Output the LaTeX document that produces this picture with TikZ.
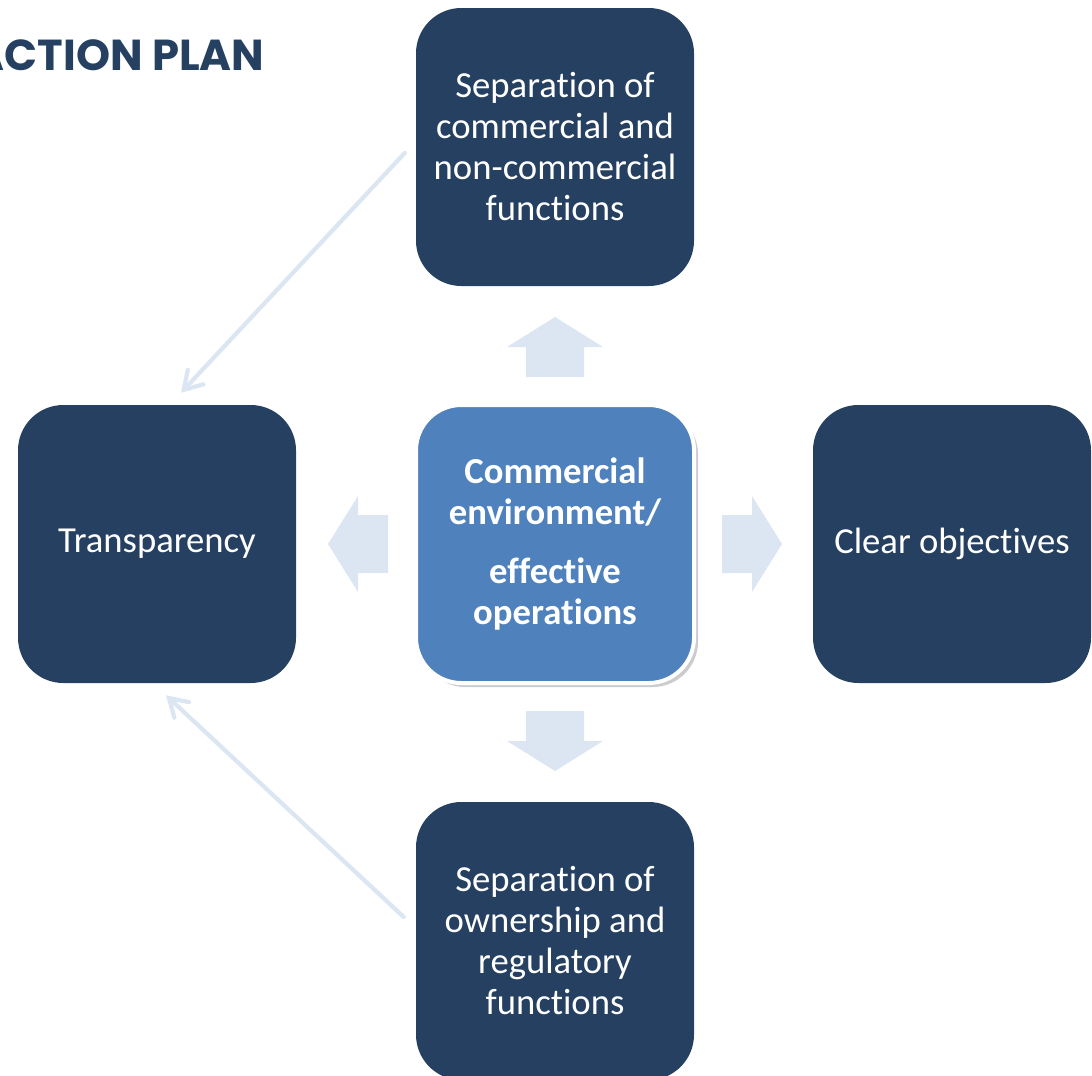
\documentclass[tikz,border=0pt]{standalone}
\usepackage{fontspec}
\setmainfont{Carlito}[Ligatures=NoCommon]
\newfontfamily\titlefont{Poppins}
\usetikzlibrary{arrows.meta,shadows}
\definecolor{navy}{HTML}{264061}
\definecolor{paleblue}{HTML}{DCE6F2}
\definecolor{midblue}{HTML}{4F81BD}
\begin{document}
\begin{tikzpicture}[x=0.75pt,y=-0.75pt,
    box/.style={rounded corners=34pt, minimum width=208.5pt, minimum height=208.5pt,
      fill=navy, text=white, align=center, font=\fontsize{27.5}{30.75}\selectfont},
    hub/.style={box, fill=midblue, draw=white, line width=3pt,
      font=\fontsize{27.5}{30.75}\selectfont\bfseries,
      drop shadow={shadow xshift=3pt, shadow yshift=-3pt, opacity=0.4}},
    blockarrow/.style={fill=paleblue},
    link/.style={draw=paleblue, line width=3.2pt, line cap=round,
      -{Straight Barb[length=13pt,width=16pt,line cap=round]}}]
  \useasboundingbox (0,0) rectangle (1092,1075);
  \node[anchor=base east, text=navy, font=\titlefont\bfseries\fontsize{32.5}{36}\selectfont]
    (title) at (269,70) {ACTION PLAN};
  \node[box] (sepcomm) at (555,147) {Separation of\\commercial and\\non-commercial\\functions};
  \node[box] (transp) at (157,544) {Transparency};
  \node[hub] (hub) at (555,544) {Commercial\\environment/\\[13pt]effective\\operations};
  \node[box] (clear) at (952,544) {Clear objectives};
  \node[box] (sepown) at (555,941) {Separation of\\ownership and\\regulatory\\functions};
  % block arrows round the hub
  \foreach \a in {0,90,180,270}
    \fill[blockarrow, rotate around={\a:(hub.center)}]
      (526,377) -- (526,347) -- (507,347) -- (555,317) -- (603,347)
      -- (584,347) -- (584,377) -- cycle;
  \begin{scope}[link]
    \draw ([shift={(-11,6)}]sepcomm.west) -- ([shift={(24,-12)}]transp.north);
    \draw ([shift={(-12,-24)}]sepown.west) -- ([shift={(9,12)}]transp.south);
  \end{scope}
\end{tikzpicture}
\end{document}
